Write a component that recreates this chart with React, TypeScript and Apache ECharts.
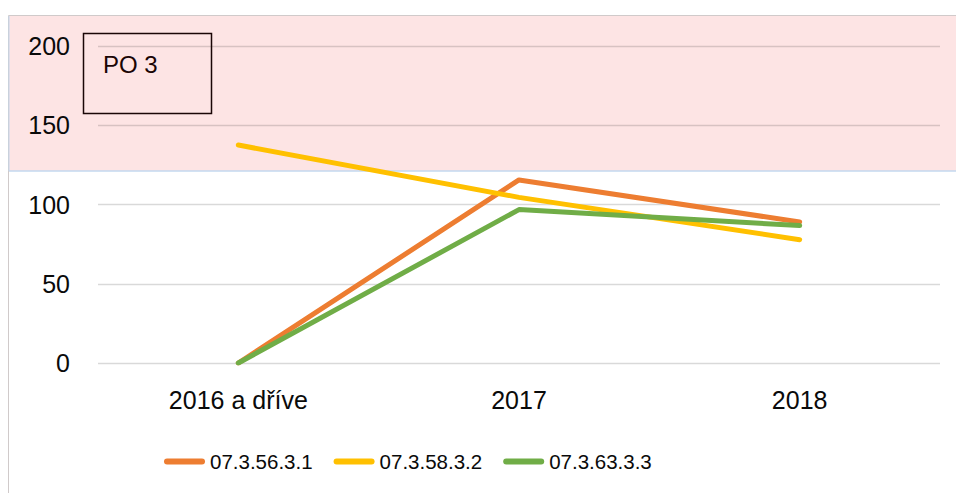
import React, { useEffect, useRef } from "react";
import * as echarts from "echarts";

const categories = ["2016 a dříve", "2017", "2018"];
const seriesNames = ["07.3.56.3.1", "07.3.58.3.2", "07.3.63.3.3"];
const orangeValues = [0, 115.5, 89];
const yellowValues = [137.5, 104.5, 77.8];
const greenValues = [0, 96.8, 86.7];
const colors = ["#ED7D31", "#FFC000", "#70AD47"];
const boxLabel = "PO 3";

const FONT = "'Liberation Sans', Arial, sans-serif";
const LEGEND_ICON = "path://M3,0 H38 A3,3 0 0 1 38,6 H3 A3,3 0 0 1 3,0 Z";

export default function App() {
  const ref = useRef<HTMLDivElement>(null);
  useEffect(() => {
    if (!ref.current) return;
    const chart = echarts.init(ref.current, undefined, { renderer: "svg" });
    const values = [orangeValues, yellowValues, greenValues];
    chart.setOption({
      animation: false,
      backgroundColor: "#ffffff",
      grid: { left: 98, right: 16, top: 46, bottom: 130, containLabel: false },
      xAxis: {
        type: "category",
        data: categories,
        boundaryGap: true,
        axisLine: { show: false },
        axisTick: { show: false },
        axisLabel: { fontFamily: FONT, fontSize: 25, color: "#0a0a0a", margin: 24 },
      },
      yAxis: {
        type: "value",
        min: 0,
        max: 200,
        interval: 50,
        axisLine: { show: false },
        axisTick: { show: false },
        axisLabel: { fontFamily: FONT, fontSize: 25, color: "#0a0a0a", margin: 28 },
        splitLine: { lineStyle: { color: "rgba(0,0,0,0.15)", width: 1.3 } },
      },
      legend: {
        left: 164,
        top: 451,
        padding: 0,
        icon: LEGEND_ICON,
        itemWidth: 41,
        itemHeight: 6,
        itemGap: 21,
        textStyle: { fontFamily: FONT, fontSize: 20.5, color: "#0a0a0a" },
        data: seriesNames,
      },
      series: seriesNames.map((name, i) => ({
        name,
        type: "line",
        data: values[i],
        symbol: "none",
        color: colors[i],
        lineStyle: { width: 5, color: colors[i], cap: "round", join: "round" },
      })),
      graphic: [
        {
          type: "rect",
          z: -20,
          shape: { x: 9, y: 16, width: 950, height: 155 },
          style: { fill: "#FDE4E4", stroke: "none" },
        },
        {
          type: "rect",
          z: -15,
          shape: { x: 8.5, y: 15.5, width: 960, height: 500 },
          style: { fill: "none", stroke: "#D0CACA", lineWidth: 1 },
        },
        {
          type: "line",
          z: -10,
          shape: { x1: 9, y1: 171, x2: 960, y2: 171 },
          style: { stroke: "#C3D8EF", lineWidth: 1.6 },
        },
        {
          type: "line",
          z: -10,
          shape: { x1: 9, y1: 16, x2: 9, y2: 171 },
          style: { stroke: "#C3D8EF", lineWidth: 1 },
        },
        {
          type: "rect",
          z: 102,
          shape: { x: 83.5, y: 33.5, width: 128, height: 80 },
          style: { fill: "none", stroke: "#1A0505", lineWidth: 1.5 },
        },
        {
          type: "text",
          z: 103,
          x: 103,
          y: 64,
          style: {
            text: boxLabel,
            fontFamily: FONT,
            fontSize: 24,
            fill: "#1A0505",
            verticalAlign: "middle",
            align: "left",
          },
        },
      ],
    });
    return () => chart.dispose();
  }, []);
  return (
    <div
      ref={ref}
      style={{ position: "fixed", left: 0, top: 0, width: 956, height: 493, background: "#fff" }}
    />
  );
}
